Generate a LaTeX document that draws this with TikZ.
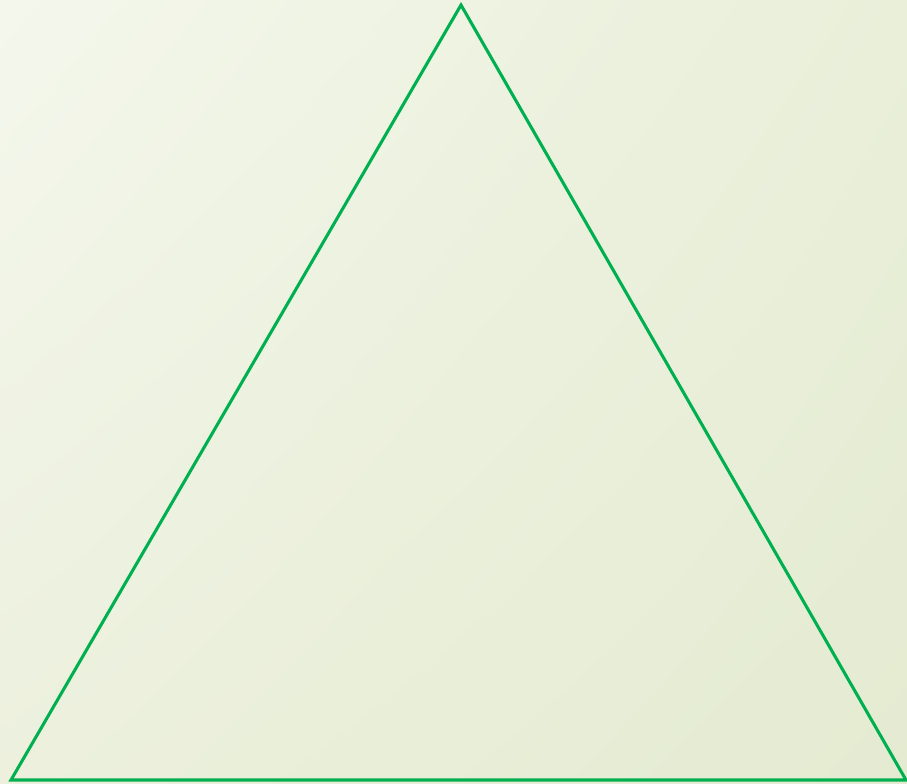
\documentclass[tikz,border=0pt]{standalone}
\usetikzlibrary{shadings}
\begin{document}
\begin{tikzpicture}[x=0.75pt,y=-0.75pt]
\definecolor{bgul}{HTML}{F4F7EC}
\definecolor{bgur}{HTML}{E9EFD9}
\definecolor{bgll}{HTML}{ECF0DD}
\definecolor{bglr}{HTML}{E4EBD1}
\definecolor{trigreen}{HTML}{00B050}
\tikzset{triline/.style={draw=trigreen, line width=2.3pt, line join=miter}}
\useasboundingbox (0,0) rectangle (907,783);
\shade[upper left=bgul, upper right=bgur, lower left=bgll, lower right=bglr] (0,0) rectangle (907,783);
\coordinate (top) at (461,5);
\coordinate (bl) at (11,780);
\coordinate (br) at (906,780);
\draw[triline] (top) -- (br) -- (bl) -- cycle;
\end{tikzpicture}
\end{document}
